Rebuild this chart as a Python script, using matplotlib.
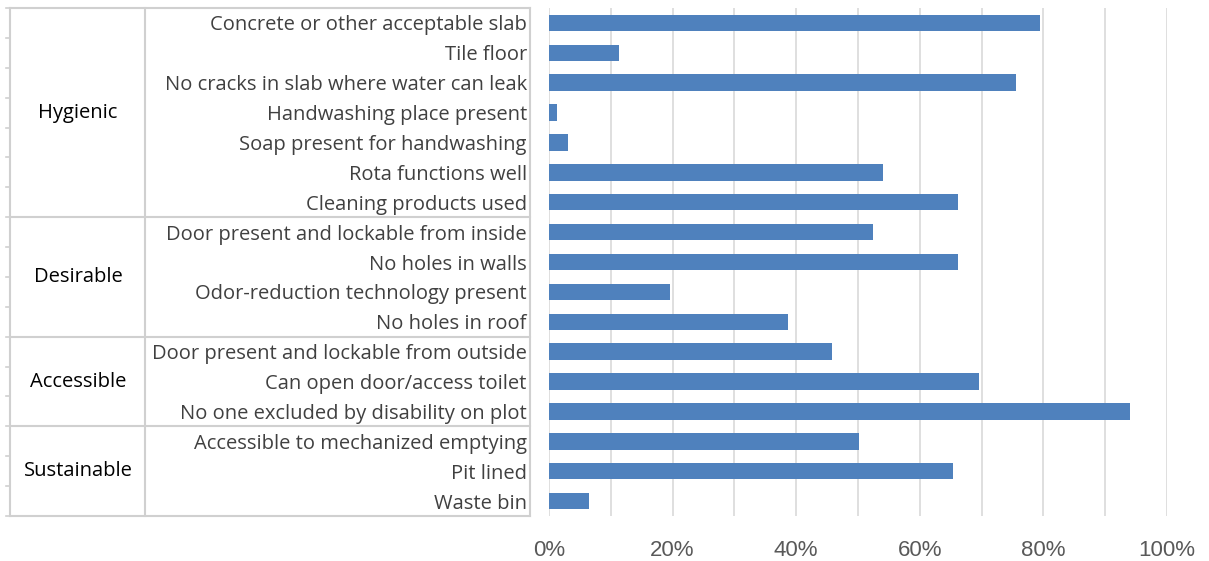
import numpy as np
import matplotlib
matplotlib.use("Agg")
from matplotlib import pyplot as plt
from matplotlib.transforms import blended_transform_factory
from matplotlib.ticker import PercentFormatter, MultipleLocator

# data
items = ['Concrete or other acceptable slab', 'Tile floor',
         'No cracks in slab where water can leak', 'Handwashing place present',
         'Soap present for handwashing', 'Rota functions well',
         'Cleaning products used', 'Door present and lockable from inside',
         'No holes in walls', 'Odor-reduction technology present',
         'No holes in roof', 'Door present and lockable from outside',
         'Can open door/access toilet', 'No one excluded by disability on plot',
         'Accessible to mechanized emptying', 'Pit lined', 'Waste bin']
values = [0.794, 0.114, 0.756, 0.013, 0.031, 0.540, 0.662, 0.524, 0.662,
          0.195, 0.386, 0.458, 0.695, 0.940, 0.502, 0.654, 0.065]
groups = ['Hygienic', 'Desirable', 'Accessible', 'Sustainable']
group_sizes = [7, 4, 3, 3]

W, H = 1209, 561
fig = plt.figure(figsize=(W / 100, H / 100), dpi=100)
ax = fig.add_axes([549 / W, 1 - 516 / H, 618 / W, 508 / H])

y = np.arange(len(items))
ax.barh(y, values, height=0.55, color='#4F81BD', zorder=3)

ax.set_xlim(0, 1)
ax.set_ylim(len(items) - 0.5, -0.5)
ax.xaxis.set_major_locator(MultipleLocator(0.2))
ax.xaxis.set_minor_locator(MultipleLocator(0.1))
ax.xaxis.set_major_formatter(PercentFormatter(1.0, decimals=0))
ax.grid(axis='x', which='both', color='#D9D9D9', lw=1.2, zorder=0)
for s in ax.spines.values():
    s.set_visible(False)

txt_font = ['Open Sans', 'DejaVu Sans']
ax.set_yticks(y)
ax.set_yticklabels(items, fontsize=14.5, color='#404040', family=txt_font)
ax.tick_params(axis='y', length=0, pad=16)
ax.tick_params(axis='x', which='both', length=0, pad=17)
for lab in ax.get_xticklabels():
    lab.set_fontsize(16)
    lab.set_color('#595959')
    lab.set_family(['Liberation Sans', 'DejaVu Sans'])

# category table on the left
tr = blended_transform_factory(fig.transFigure, ax.transData)
lc = '#D0D0D0'
x_left, x_mid, x_right = 10 / W, 145 / W, 530 / W
bounds = np.concatenate([[0], np.cumsum(group_sizes)]) - 0.5
for b in bounds:
    ax.plot([x_left, x_right], [b, b], color=lc, lw=1.5, transform=tr, clip_on=False)
for xv in [x_left, x_mid, x_right]:
    ax.plot([xv, xv], [bounds[0], bounds[-1]], color=lc, lw=1.5, transform=tr, clip_on=False)
for r in np.arange(len(items) + 1) - 0.5:
    ax.plot([6 / W, x_left], [r, r], color=lc, lw=1.2, transform=tr, clip_on=False)
for g, lo, hi in zip(groups, bounds[:-1], bounds[1:]):
    ax.text(78 / W, (lo + hi) / 2, g, transform=tr, ha='center', va='center',
            fontsize=14.5, color='black', family=txt_font)

fig.savefig('out.png', dpi=100)
